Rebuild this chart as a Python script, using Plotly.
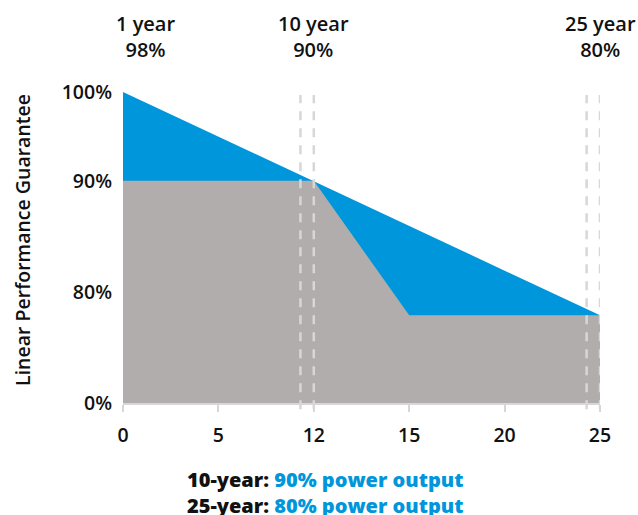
import plotly.graph_objects as go

# ---- data (y values in display units: 0%->0, 80%->1, 90%->2, 100%->2.8) ----
y_tick_pos = [0, 1, 2, 2.8]
y_tick_text = ["0%", "80%", "90%", "100%"]
x_tick_pos = [0, 5, 10, 15, 20, 25]
x_tick_text = ["0", "5", "12", "15", "20", "25"]

linear_years = [0, 25]
linear_values = [2.8, 0.79]

standard_years = [0, 10, 15, 25]
standard_values = [2, 2, 0.79, 0.79]

marker_years = [9.3, 10, 24.3, 25]

milestone_years = [1.2, 10, 25]
milestone_labels = ["1 year", "10 year", "25 year"]
milestone_pcts = ["98%", "90%", "80%"]

BLUE = "rgb(0,150,219)"
GRAY = "rgb(176,173,172)"
FONT = "Open Sans"
TXT = "#111"

fig = go.Figure()
fig.add_trace(go.Scatter(x=linear_years, y=linear_values, mode="lines",
                         line=dict(width=0, color=BLUE), fill="tozeroy",
                         fillcolor=BLUE, hoverinfo="skip", showlegend=False))
fig.add_trace(go.Scatter(x=standard_years, y=standard_values, mode="lines",
                         line=dict(width=0, color=GRAY), fill="tozeroy",
                         fillcolor=GRAY, hoverinfo="skip", showlegend=False))

for xv in marker_years:
    fig.add_shape(type="line", xref="x", yref="paper", x0=xv, x1=xv,
                  y0=-0.02, y1=0.99,
                  line=dict(color="rgb(215,215,215)", width=2.5, dash="9px,8px"))

for xv, lab, pct in zip(milestone_years, milestone_labels, milestone_pcts):
    fig.add_annotation(x=xv, y=1.177, xref="x", yref="paper", text=f"{lab}<br>{pct}",
                       showarrow=False, xanchor="center", yanchor="middle",
                       font=dict(family=FONT, size=20, color=TXT, weight=600))

fig.add_annotation(x=-0.212, y=0.524, xref="paper", yref="paper",
                   text="Linear Performance Guarantee", textangle=-90,
                   showarrow=False, xanchor="center", yanchor="middle",
                   font=dict(family=FONT, size=19.5, color=TXT, weight=600))

bottom_lines = [("10-year:", "90% power output"), ("25-year:", "80% power output")]
bottom_text = "<br>".join(f"{a} <span style='color:{BLUE}'>{b}</span>" for a, b in bottom_lines)
fig.add_annotation(
    x=0.424, y=-0.288, xref="paper", yref="paper", showarrow=False,
    xanchor="center", yanchor="middle", text=bottom_text,
    font=dict(family=FONT, size=20, color=TXT, weight=800))

fig.update_layout(
    width=638, height=515,
    margin=dict(l=123, r=38, t=92, b=112),
    paper_bgcolor="white", plot_bgcolor="white",
    font=dict(family=FONT, size=18, color=TXT),
    xaxis=dict(range=[0, 25], tickvals=x_tick_pos, ticktext=x_tick_text,
               showgrid=False, zeroline=False, showline=True,
               linecolor="rgb(215,215,215)", linewidth=2,
               ticks="outside", ticklen=7, tickwidth=2,
               tickcolor="rgb(215,215,215)", ticklabelstandoff=7,
               tickfont=dict(family=FONT, size=19.5, color=TXT, weight=600)),
    yaxis=dict(range=[0, 2.8], tickvals=y_tick_pos, ticktext=y_tick_text,
               showgrid=False, zeroline=False, showline=False, ticks="",
               ticklabelstandoff=10,
               tickfont=dict(family=FONT, size=19.5, color=TXT, weight=600)),
)

fig.write_html("out.html", config={"displayModeBar": False},
               post_script="document.body.style.margin='0';")
